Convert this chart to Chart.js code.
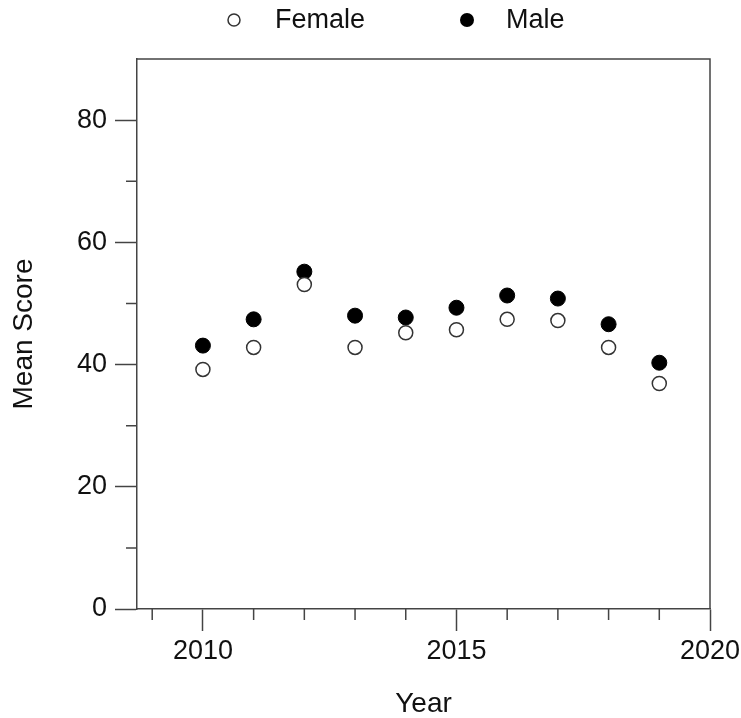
<!DOCTYPE html>
<html>
<head>
<meta charset="utf-8">
<script src="https://cdn.jsdelivr.net/npm/chart.js@4.4.0/dist/chart.umd.min.js"></script>
<style>
  html, body { margin: 0; padding: 0; background: #fff; }
  #wrap { width: 741px; height: 718px; }
</style>
</head>
<body>
<div id="wrap"><canvas id="myChart" width="741" height="718"></canvas></div>
<script>
// data
var years = [2010, 2011, 2012, 2013, 2014, 2015, 2016, 2017, 2018, 2019];
var female = [39.2, 42.8, 53.1, 42.8, 45.2, 45.7, 47.4, 47.2, 42.8, 36.9];
var male = [43.1, 47.4, 55.2, 48.0, 47.7, 49.3, 51.3, 50.8, 46.6, 40.3];
var seriesNames = ['Female', 'Male'];
var xTicks = [2010, 2015, 2020];
var xMinorTicks = [2009, 2011, 2012, 2013, 2014, 2016, 2017, 2018, 2019];
var yTicks = [0, 20, 40, 60, 80];
var yMinorTicks = [10, 30, 50, 70];

var FONT = "'Liberation Sans', Arial, sans-serif";
var AXIS = '#444';

function toPoints(vals){
  var pts = [];
  for (var i = 0; i < years.length; i++) {
    pts.push({x: years[i], y: vals[i]});
  }
  return pts;
}

// box, minor ticks and the legend on top
var extras = {
  id: 'extras',
  afterDraw: function(chart){
    var ctx = chart.ctx;
    var a = chart.chartArea;
    var xs = chart.scales.x, ys = chart.scales.y;
    ctx.save();
    ctx.strokeStyle = AXIS;
    ctx.lineWidth = 1.5;
    ctx.beginPath();
    ctx.moveTo(a.left, a.top);
    ctx.lineTo(a.right, a.top);
    ctx.lineTo(a.right, a.bottom);
    ctx.stroke();
    // minor ticks
    ctx.beginPath();
    for (var i = 0; i < xMinorTicks.length; i++) {
      var px = xs.getPixelForValue(xMinorTicks[i]);
      ctx.moveTo(px, a.bottom);
      ctx.lineTo(px, a.bottom + 11);
    }
    for (var j = 0; j < yMinorTicks.length; j++) {
      var py = ys.getPixelForValue(yMinorTicks[j]);
      ctx.moveTo(a.left, py);
      ctx.lineTo(a.left - 11, py);
    }
    ctx.stroke();

    // legend
    ctx.font = '27px ' + FONT;
    ctx.textBaseline = 'middle';
    ctx.textAlign = 'left';
    ctx.beginPath();
    ctx.arc(234, 20, 6, 0, Math.PI * 2);
    ctx.fillStyle = '#fff';
    ctx.fill();
    ctx.strokeStyle = '#333';
    ctx.lineWidth = 1.5;
    ctx.stroke();
    ctx.fillStyle = '#111';
    ctx.fillText(seriesNames[0], 275, 21);
    ctx.beginPath();
    ctx.arc(467, 20, 7, 0, Math.PI * 2);
    ctx.fillStyle = '#000';
    ctx.fill();
    ctx.fillStyle = '#111';
    ctx.fillText(seriesNames[1], 506, 21);
    ctx.restore();
  }
};

var ctx = document.getElementById('myChart').getContext('2d');
var chart = new Chart(ctx, {
  type: 'scatter',
  data: {
    datasets: [{
      label: seriesNames[0],
      data: toPoints(female),
      backgroundColor: '#fff',
      borderColor: '#333',
      borderWidth: 1.5,
      pointRadius: 7
    }, {
      label: seriesNames[1],
      data: toPoints(male),
      backgroundColor: '#000',
      borderColor: '#000',
      borderWidth: 1,
      pointRadius: 7.5
    }]
  },
  options: {
    responsive: false,
    animation: false,
    layout: { padding: { top: 59, right: 31, left: 0, bottom: 0 } },
    plugins: {
      legend: { display: false },
      tooltip: { enabled: false }
    },
    scales: {
      x: {
        type: 'linear',
        min: 2008.7,
        max: 2020,
        afterBuildTicks: function(scale){
          scale.ticks = xTicks.map(function(v){ return {value: v}; });
        },
        afterFit: function(scale){
          scale.height = 109;
          scale.paddingLeft = 0;
          scale.paddingRight = 0;
        },
        grid: { drawOnChartArea: false, tickLength: 22, tickColor: AXIS, tickWidth: 1.5 },
        border: { color: AXIS, width: 1.5 },
        ticks: {
          padding: 4,
          color: '#111',
          font: { family: FONT, size: 27 },
          maxRotation: 0,
          callback: function(v){ return String(v); }
        },
        title: {
          display: true,
          text: 'Year',
          color: '#111',
          font: { family: FONT, size: 28, lineHeight: 1 },
          padding: { top: 0, bottom: 0 }
        }
      },
      y: {
        min: 0,
        max: 90,
        afterBuildTicks: function(scale){
          scale.ticks = yTicks.map(function(v){ return {value: v}; });
        },
        afterFit: function(scale){
          scale.width = 137;
          scale.paddingTop = 0;
          scale.paddingBottom = 0;
        },
        grid: { drawOnChartArea: false, tickLength: 22, tickColor: AXIS, tickWidth: 1.5 },
        border: { color: AXIS, width: 1.5 },
        ticks: {
          padding: 8,
          color: '#111',
          font: { family: FONT, size: 27 },
          callback: function(v){ return String(v); }
        },
        title: {
          display: true,
          text: 'Mean Score',
          color: '#111',
          font: { family: FONT, size: 28, lineHeight: 1 },
          padding: { top: 10, bottom: 0 }
        }
      }
    }
  },
  plugins: [extras]
});
</script>
</body>
</html>
